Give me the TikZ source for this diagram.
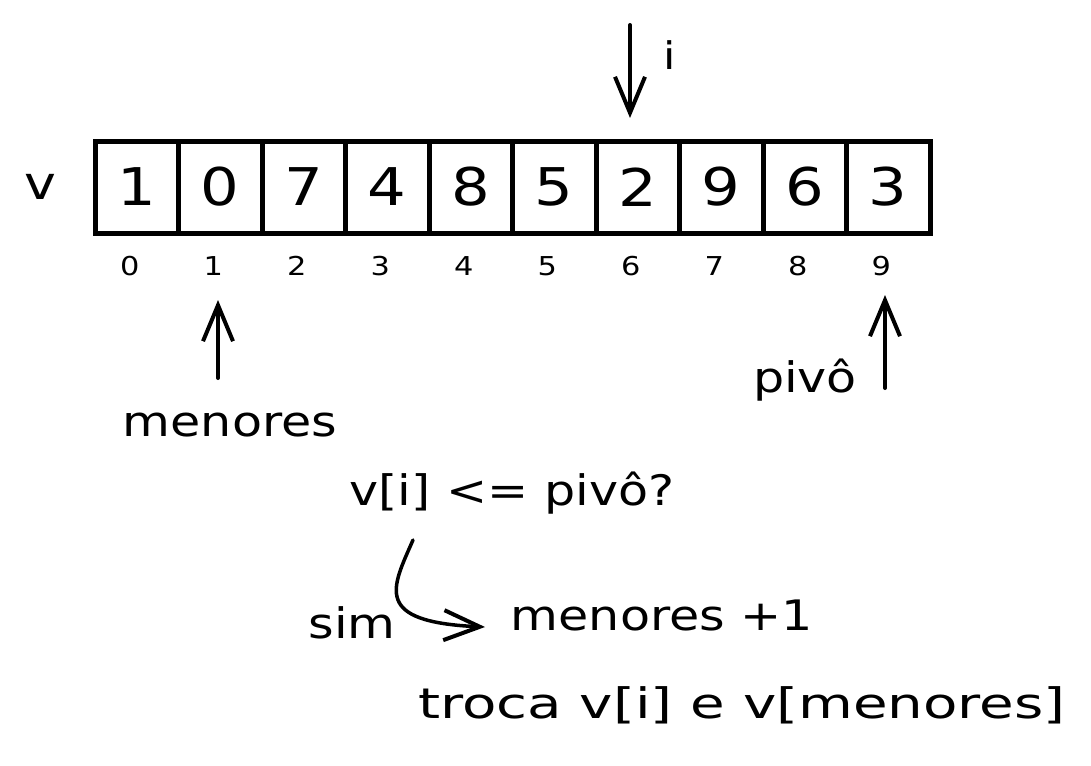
\documentclass[tikz,border=0pt]{standalone}
\usepackage{fontspec}
\setmainfont{DejaVu Sans}[FakeStretch=1.17]
\newfontfamily\widefont{DejaVu Sans}[FakeStretch=1.34]
\usetikzlibrary{arrows.meta}
\begin{document}
\begin{tikzpicture}[x=1pt,y=-1pt,
  cell/.style={draw,line width=5pt,minimum width=83.5pt,minimum height=92pt,inner sep=0pt,font=\fontsize{52}{52}\selectfont},
  idx/.style={font=\fontsize{26}{26}\selectfont,inner sep=0pt},
  lbl/.style={font=\fontsize{42}{42}\selectfont,inner sep=0pt,anchor=base},
  arr/.style={line width=4pt,line cap=round,-{Straight Barb[length=36pt,width=30pt,line width=4pt]}}]
\useasboundingbox (0,0) rectangle (1091,765);
\foreach \v [count=\k from 0] in {1,0,7,4,8,5,2,9,6,3}{
  \node[cell] (c\k) at (95+83.5*\k+41.75,187) {\v};
  \node[idx] (i\k) at (95+83.5*\k+41.75-7,266) {\k};
}
\node[lbl,font=\fontsize{46}{46}\selectfont] (v) at (40,199) {v};
% i arrow
\coordinate (itop) at (630,25);
\coordinate (ibot) at (630,118);
\draw[arr] (itop) -- (ibot);
\node[lbl,font=\fontsize{38}{38}\selectfont] (ilbl) at (670,70) {i};
% menores arrow
\node[lbl] (men) at (230,436) {menores};
\coordinate (mtail) at (218,378);
\coordinate (mhead) at (218,300);
\draw[arr] (mtail) -- (mhead);
% pivo arrow
\node[lbl] (piv) at (805,392) {pivô};
\coordinate (ptail) at (885,388);
\coordinate (phead) at (885,295);
\draw[arr] (ptail) -- (phead);
% question
\node[lbl] (q) at (512,505) {v[i] <= pivô?};
\node[lbl] (sim) at (352,638) {sim};
\node[lbl] (inc) at (662,630) {menores +1};
\coordinate (hs) at (413,540);
\coordinate (he) at (485,627);
\draw[arr,line width=3.5pt] (hs) .. controls (392,588) and (372,622) .. (he);
\node[lbl,font=\fontsize{42}{42}\widefont] (troca) at (742,718) {troca v[i] e v[menores]};
\end{tikzpicture}
\end{document}
